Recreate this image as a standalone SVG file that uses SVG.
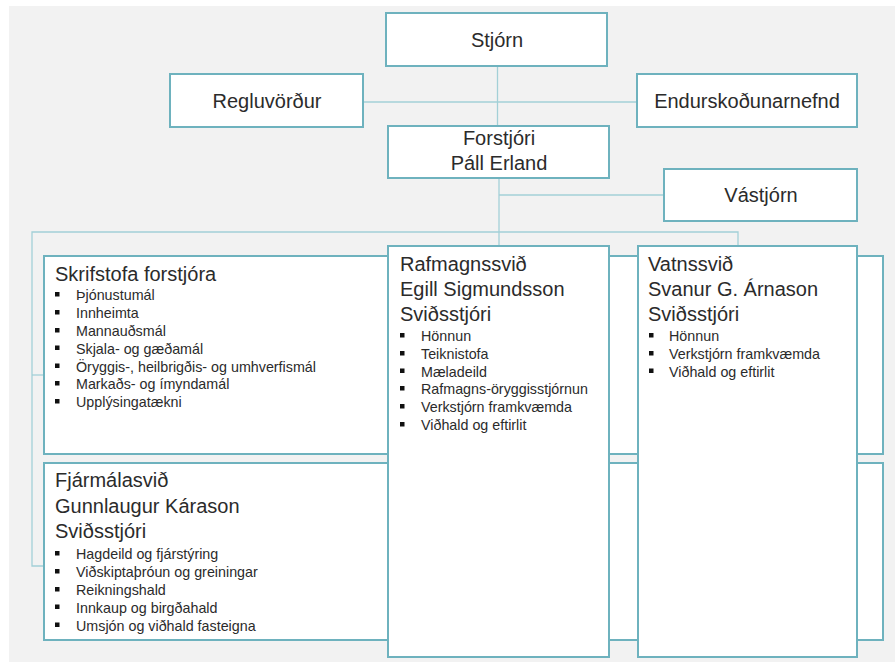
<svg xmlns="http://www.w3.org/2000/svg" width="895" height="662" viewBox="0 0 895 662">
<style>
.box{fill:#ffffff;stroke:#6eb2be;stroke-width:2}
.con{fill:none;stroke:#a3d0d7;stroke-width:1.3}
.t{font-family:"Liberation Sans",Arial,sans-serif;font-size:20px;fill:#2b2b2b}
.c{text-anchor:middle}
.b{font-family:"Liberation Sans",Arial,sans-serif;font-size:14.3px;fill:#2b2b2b}
.bl{fill:#111}
</style>
<defs>
<rect id="sq" class="bl" width="4.5" height="4.5"/>
</defs>
<rect x="9" y="6" width="886" height="656" fill="#f2f2f2"/>

<g id="connectors">
<line class="con" x1="497.5" y1="66" x2="497.5" y2="126"/>
<line class="con" x1="363" y1="102" x2="637" y2="102"/>
<line class="con" x1="499" y1="178" x2="499" y2="246"/>
<line class="con" x1="499" y1="195" x2="664" y2="195"/>
<polyline class="con" points="738,246 738,232 32,232 32,566 44,566"/>
<line class="con" x1="32" y1="375" x2="44" y2="375"/>
</g>

<g id="stjorn">
<rect class="box" x="386" y="13" width="221" height="53"/>
<text class="t c" x="497" y="47">Stjórn</text>
</g>
<g id="regluvordur">
<rect class="box" x="170" y="74" width="193" height="53"/>
<text class="t c" x="267" y="108">Regluvörður</text>
</g>
<g id="endurskodunarnefnd">
<rect class="box" x="637" y="74" width="220" height="53"/>
<text class="t c" x="747" y="108">Endurskoðunarnefnd</text>
</g>
<g id="forstjori">
<rect class="box" x="388" y="126" width="221" height="52"/>
<text class="t c" x="499" y="145">Forstjóri</text>
<text class="t c" x="499" y="170">Páll Erland</text>
</g>
<g id="vastjorn">
<rect class="box" x="664" y="169" width="193" height="52"/>
<text class="t c" x="761" y="202">Vástjórn</text>
</g>

<g id="skrifstofa">
<rect class="box" x="44" y="256" width="839" height="198"/>
<text class="t" x="55" y="281">Skrifstofa forstjóra</text>
<g class="b">
<use href="#sq" x="55" y="292"/><text x="76" y="300">Þjónustumál</text>
<use href="#sq" x="55" y="310"/><text x="76" y="318">Innheimta</text>
<use href="#sq" x="55" y="328"/><text x="76" y="336">Mannauðsmál</text>
<use href="#sq" x="55" y="345.5"/><text x="76" y="353.5">Skjala- og gæðamál</text>
<use href="#sq" x="55" y="363.5"/><text x="76" y="371.5">Öryggis-, heilbrigðis- og umhverfismál</text>
<use href="#sq" x="55" y="381"/><text x="76" y="389">Markaðs- og ímyndamál</text>
<use href="#sq" x="55" y="399"/><text x="76" y="407">Upplýsingatækni</text>
</g>
</g>

<g id="fjarmalasvid">
<rect class="box" x="44" y="463" width="839" height="177"/>
<text class="t" x="55" y="487">Fjármálasvið</text>
<text class="t" x="55" y="513">Gunnlaugur Kárason</text>
<text class="t" x="55" y="538">Sviðsstjóri</text>
<g class="b">
<use href="#sq" x="55" y="551"/><text x="76" y="559">Hagdeild og fjárstýring</text>
<use href="#sq" x="55" y="569"/><text x="76" y="577">Viðskiptaþróun og greiningar</text>
<use href="#sq" x="55" y="587"/><text x="76" y="595">Reikningshald</text>
<use href="#sq" x="55" y="604.5"/><text x="76" y="612.5">Innkaup og birgðahald</text>
<use href="#sq" x="55" y="622.5"/><text x="76" y="630.5">Umsjón og viðhald fasteigna</text>
</g>
</g>

<g id="rafmagnssvid">
<rect class="box" x="388" y="246" width="221" height="411"/>
<text class="t" x="400" y="271">Rafmagnssvið</text>
<text class="t" x="400" y="296">Egill Sigmundsson</text>
<text class="t" x="400" y="321">Sviðsstjóri</text>
<g class="b">
<use href="#sq" x="400" y="333"/><text x="421" y="341">Hönnun</text>
<use href="#sq" x="400" y="351"/><text x="421" y="359">Teiknistofa</text>
<use href="#sq" x="400" y="368.5"/><text x="421" y="376.5">Mæladeild</text>
<use href="#sq" x="400" y="386"/><text x="421" y="394">Rafmagns-öryggisstjórnun</text>
<use href="#sq" x="400" y="404"/><text x="421" y="412">Verkstjórn framkvæmda</text>
<use href="#sq" x="400" y="422"/><text x="421" y="430">Viðhald og eftirlit</text>
</g>
</g>

<g id="vatnssvid">
<rect class="box" x="638" y="246" width="219" height="411"/>
<text class="t" x="648" y="271">Vatnssvið</text>
<text class="t" x="648" y="296">Svanur G. Árnason</text>
<text class="t" x="648" y="321">Sviðsstjóri</text>
<g class="b">
<use href="#sq" x="649" y="333"/><text x="669" y="341">Hönnun</text>
<use href="#sq" x="649" y="351"/><text x="669" y="359">Verkstjórn framkvæmda</text>
<use href="#sq" x="649" y="368.5"/><text x="669" y="376.5">Viðhald og eftirlit</text>
</g>
</g>
</svg>
